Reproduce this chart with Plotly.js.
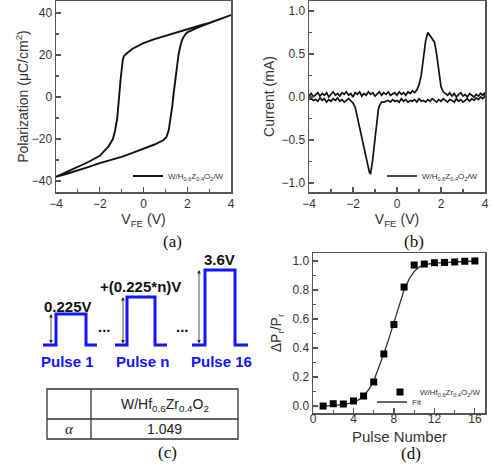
<!DOCTYPE html>
<html>
<head>
<meta charset="utf-8">
<script src="https://cdn.plot.ly/plotly-3.0.1.min.js"></script>
<style>html,body{margin:0;padding:0;background:#fff}#chart{width:493px;height:468px}</style>
</head>
<body>
<div id="chart"></div>
<script>
// ---------- (a) P–V hysteresis ----------
const pUpV = [4, 3.5, 3, 2.5, 2, 1.5, 1, 0.5, 0, -0.5, -0.8, -0.9, -0.95, -1.0, -1.05, -1.1, -1.15, -1.2, -1.3, -1.4, -1.6, -1.8, -2, -2.5, -3, -3.5, -4];
const pUpP = [39, 37, 35.3, 33.8, 32.3, 30.8, 29.2, 27.6, 25.6, 23, 20.5, 19.3, 17.5, 13.5, 8, 2, -4, -10, -16, -20, -23.5, -26, -28, -30.8, -33.2, -35.6, -38];
const pDnV = [-4, -3.5, -3, -2.5, -2, -1.5, -1, -0.5, 0, 0.5, 0.9, 1.05, 1.15, 1.25, 1.32, 1.38, 1.45, 1.5, 1.6, 1.7, 1.8, 1.9, 2.0, 2.5, 3, 3.5, 4];
const pDnP = [-38, -36.5, -35, -33.2, -31.5, -30, -28.5, -26.6, -24.6, -22.6, -20.6, -19, -16, -10, -4, 2, 8, 13, 20, 25, 28, 29.6, 30.8, 33.2, 35.2, 37.1, 39];

// ---------- (b) I–V switching current ----------
const iFwdV = [-4.0,-3.9,-3.8,-3.7,-3.6,-3.5,-3.4,-3.3,-3.2,-3.1,-3.0,-2.9,-2.8,-2.7,-2.6,-2.5,-2.4,-2.3,-2.2,-2.1,-2.0,-1.9,-1.8,-1.7,-1.6,-1.5,-1.4,-1.3,-1.2,-1.1,-1.0,-0.9,-0.8,-0.7,-0.6,-0.5,-0.4,-0.3,-0.2,-0.1,0,0.1,0.2,0.3,0.4,0.5,0.6,0.7,0.8,0.9,1.0,1.1,1.2,1.3,1.4,1.5,1.6,1.7,1.8,1.9,2.0,2.1,2.2,2.3,2.4,2.5,2.6,2.7,2.8,2.9,3.0,3.1,3.2,3.3,3.4,3.5,3.6,3.7,3.8,3.9,4.0];
const iFwdI = [0.01,0.04,0.00,0.03,0.05,0.01,0.04,0.02,0.05,0.00,
               0.03,0.06,0.02,0.04,0.01,0.05,0.03,0.06,0.02,0.04,
               0.00,0.05,0.03,0.06,0.01,0.04,0.02,0.06,0.03,0.05,
               0.01,0.04,0.06,0.02,0.05,0.03,0.06,0.02,0.04,0.05,
               0.02,0.06,0.03,0.05,0.02,0.06,0.04,0.07,0.05,
               0.08,0.14,0.25,0.45,0.65,0.75,0.71,0.67,0.64,0.5,0.3,0.12,0.06,0.04,
               0.02,0.05,0.01,0.04,0.00,0.03,0.05,0.01,0.03,0.00,0.04,0.02,0.00,0.03,0.01,0.04,0.02,0.05];
const iRevV = [4.0,3.9,3.8,3.7,3.6,3.5,3.4,3.3,3.2,3.1,3.0,2.9,2.8,2.7,2.6,2.5,2.4,2.3,2.2,2.1,2.0,1.9,1.8,1.7,1.6,1.5,1.4,1.3,1.2,1.1,1.0,0.9,0.8,0.7,0.6,0.5,0.4,0.3,0.2,0.1,0,-0.1,-0.2,-0.3,-0.4,-0.5,-0.6,
               -0.7,-0.8,-0.85,-0.9,-0.95,-1.0,-1.05,-1.1,-1.15,-1.2,-1.25,-1.3,-1.4,-1.5,-1.6,-1.7,-1.8,-1.9,-2.0,
               -2.1,-2.2,-2.3,-2.4,-2.5,-2.6,-2.7,-2.8,-2.9,-3.0,-3.1,-3.2,-3.3,-3.4,-3.5,-3.6,-3.7,-3.8,-3.9,-4.0];
const iRevI = [0.01,-0.02,0.00,-0.03,-0.01,-0.04,-0.02,-0.05,-0.02,-0.04,
               -0.06,-0.03,-0.05,-0.02,-0.06,-0.04,-0.03,-0.06,-0.04,-0.02,
               -0.05,-0.03,-0.06,-0.04,-0.02,-0.05,-0.03,-0.06,-0.04,-0.05,
               -0.02,-0.06,-0.03,-0.05,-0.04,-0.06,-0.03,-0.05,-0.02,-0.06,
               -0.04,-0.05,-0.03,-0.06,-0.04,-0.05,-0.06,
               -0.06,-0.1,-0.15,-0.25,-0.38,-0.48,-0.6,-0.72,-0.82,-0.89,-0.88,-0.82,-0.74,-0.62,-0.5,-0.36,-0.22,-0.12,-0.07,
               -0.05,-0.02,-0.04,-0.06,-0.03,-0.05,-0.01,-0.04,-0.02,-0.05,-0.03,-0.06,-0.02,-0.04,-0.01,-0.05,-0.03,-0.04,-0.02,-0.03];

// ---------- (d) normalized polarization vs pulse ----------
const pulseNum = [1, 2, 3, 4, 5, 6, 7, 8, 9, 10, 11, 12, 13, 14, 15, 16];
const dPr = [0.0, 0.016, 0.014, 0.035, 0.069, 0.166, 0.359, 0.562, 0.82, 0.972, 0.979, 0.988, 0.99, 0.993, 0.998, 1.0];
const fitX = [1, 2, 3, 4, 4.5, 5, 5.5, 6, 6.5, 7, 7.5, 8, 8.5, 9, 9.5, 10, 10.5, 11, 12, 13, 14, 15, 16];
const fitY = [0.0, 0.005, 0.01, 0.025, 0.042, 0.07, 0.112, 0.172, 0.26, 0.36, 0.465, 0.572, 0.69, 0.8, 0.875, 0.928, 0.958, 0.974, 0.985, 0.99, 0.994, 0.997, 1.0];

// ---------- (c) pulse scheme and table ----------
const pulseNames = ['Pulse 1', 'Pulse n', 'Pulse 16'];
const pulseVolts = ['0.225V', '+(0.225*n)V', '3.6V'];
const tableHeader = ['', 'W/Hf<sub>0.6</sub>Zr<sub>0.4</sub>O<sub>2</sub>'];
const tableRow = ['<i>α</i>', '1.049'];

const legendA = 'W/H<sub>0.6</sub>Z<sub>0.4</sub>O<sub>2</sub>/W';
const legendD = 'W/Hf<sub>0.6</sub>Zr<sub>0.4</sub>O<sub>2</sub>/W';
const panelTags = ['(a)', '(b)', '(c)', '(d)'];
const titleD = 'Pulse Number';

// ---------- styles / geometry ----------
const W = 493, H = 468;
const FONT = 'Liberation Sans, Arial, sans-serif';
const SERIF = 'Liberation Serif, Times New Roman, serif';
const AXC = '#555';
const BLUE = '#1414ff';
const px = v => v / W;
const py = v => 1 - v / H;

function axisBase(extra) {
  return Object.assign({
    ticks: 'inside', ticklen: 5, tickwidth: 1.2, tickcolor: AXC,
    showline: true, mirror: true, linecolor: AXC, linewidth: 1.5,
    showgrid: false, zeroline: false,
    tickfont: {size: 12, color: '#333', family: FONT},
    fixedrange: true
  }, extra);
}

const traces = [
  {x: pUpV.concat(pDnV), y: pUpP.concat(pDnP), type: 'scatter', mode: 'lines',
   line: {color: '#111', width: 1.9}, xaxis: 'x', yaxis: 'y', name: legendA, legend: 'legend'},
  {x: iFwdV.concat(iRevV), y: iFwdI.concat(iRevI), type: 'scatter', mode: 'lines',
   line: {color: '#111', width: 1.7}, xaxis: 'x2', yaxis: 'y2', name: legendA, legend: 'legend2'},
  {x: fitX, y: fitY, type: 'scatter', mode: 'lines', line: {color: '#333', width: 1.3},
   xaxis: 'x3', yaxis: 'y3', name: 'Fit', legend: 'legend4'},
  {x: pulseNum, y: dPr, type: 'scatter', mode: 'markers',
   marker: {symbol: 'square', size: 7, color: '#000'},
   xaxis: 'x3', yaxis: 'y3', name: legendD, legend: 'legend3'}
];

// pulse drawing geometry (pixel space on helper axes x4/y4)
const pulseGeom = [
  {x0: 43, xu: 56, xd: 86, x1: 97, top: 314, arrowX: 51, labelX: 68, labelY: 306, nameX: 67},
  {x0: 115, xu: 127, xd: 155, x1: 167, top: 297, arrowX: 123, labelX: 140, labelY: 286, nameX: 142},
  {x0: 192, xu: 205, xd: 235, x1: 248, top: 270, arrowX: 199, labelX: 219, labelY: 259, nameX: 221}
];
const base = 345;
const shapes = [];
const annotations = [];
pulseGeom.forEach((g, i) => {
  shapes.push({type: 'path', xref: 'x4', yref: 'y4',
    path: `M ${g.x0} ${base} H ${g.xu} V ${g.top} H ${g.xd} V ${base} H ${g.x1}`,
    line: {color: BLUE, width: 3}});
  annotations.push({xref: 'x4', yref: 'y4', x: g.arrowX, y: g.top, ax: g.arrowX, ay: base,
    axref: 'x4', ayref: 'y4', text: '', showarrow: true, arrowhead: 2, startarrowhead: 2,
    arrowside: 'end+start', arrowsize: 0.9, startarrowsize: 0.9, arrowwidth: 0.8, arrowcolor: '#222'});
  annotations.push({xref: 'x4', yref: 'y4', x: g.labelX, y: g.labelY, text: '<b>' + pulseVolts[i] + '</b>',
    showarrow: false, font: {family: FONT, size: 15, color: '#111'}});
  annotations.push({xref: 'x4', yref: 'y4', x: g.nameX, y: 361, text: '<b>' + pulseNames[i] + '</b>',
    showarrow: false, font: {family: FONT, size: 15, color: BLUE}});
});
[104, 182].forEach(x => annotations.push({xref: 'x4', yref: 'y4', x: x, y: 326, text: '<b>...</b>',
  showarrow: false, font: {family: FONT, size: 15, color: '#111'}}));

// table (c)
const tbl = {x0: 47, x1: 238, xc: 91, y0: 389, ym: 419, y1: 439};
const TL = {color: '#333', width: 1.3};
shapes.push({type: 'rect', xref: 'x4', yref: 'y4', x0: tbl.x0, x1: tbl.x1, y0: tbl.y0, y1: tbl.y1, line: TL});
shapes.push({type: 'line', xref: 'x4', yref: 'y4', x0: tbl.x0, x1: tbl.x1, y0: tbl.ym, y1: tbl.ym, line: TL});
shapes.push({type: 'line', xref: 'x4', yref: 'y4', x0: tbl.xc, x1: tbl.xc, y0: tbl.y0, y1: tbl.y1, line: TL});
const colC = [(tbl.x0 + tbl.xc) / 2, (tbl.xc + tbl.x1) / 2];
const rowC = [(tbl.y0 + tbl.ym) / 2, (tbl.ym + tbl.y1) / 2];
[tableHeader, tableRow].forEach((row, r) => row.forEach((txt, c) => {
  if (!txt) return;
  annotations.push({xref: 'x4', yref: 'y4', x: colC[c], y: rowC[r] + (r === 0 ? 1 : 0), text: txt, showarrow: false,
    font: {family: c === 0 ? SERIF : FONT, size: c === 0 ? 15 : 14, color: '#222'}});
}));

[[172, 241], [414, 241], [167, 452], [411, 453]].forEach((p, i) => annotations.push({
  xref: 'x4', yref: 'y4', x: p[0], y: p[1], text: panelTags[i], showarrow: false,
  font: {family: SERIF, size: 17, color: '#111'}}));
// x-axis title of (d), placed to clear the panel tag below it
annotations.push({xref: 'x4', yref: 'y4', x: 399, y: 436, text: titleD, showarrow: false,
  font: {family: FONT, size: 15, color: '#333'}});

const legendCommon = {bgcolor: 'rgba(0,0,0,0)', borderwidth: 0, xanchor: 'right', yanchor: 'middle',
  font: {family: FONT, size: 8, color: '#333'}, itemwidth: 30, tracegroupgap: 0};

const layout = {
  width: W, height: H, margin: {l: 0, r: 0, t: 0, b: 0},
  paper_bgcolor: 'white', plot_bgcolor: 'rgba(0,0,0,0)',
  font: {family: FONT, color: '#333'},
  showlegend: true,
  xaxis: axisBase({domain: [px(56), px(231)], anchor: 'y', range: [-4, 4], dtick: 2,
    minor: {dtick: 1, ticks: 'inside', ticklen: 3, tickcolor: AXC},
    title: {text: 'V<sub>FE</sub> (V)', font: {size: 14, color: '#333'}, standoff: 3}}),
  yaxis: axisBase({domain: [py(192), py(1)], anchor: 'x', range: [-45.2, 45.7], dtick: 20,
    minor: {dtick: 10, ticks: 'inside', ticklen: 3, tickcolor: AXC},
    title: {text: 'Polarization (μC/cm<sup>2</sup>)', font: {size: 14, color: '#333'}, standoff: 0}}),
  xaxis2: axisBase({domain: [px(309), px(485)], anchor: 'y2', range: [-4, 4], dtick: 2,
    minor: {dtick: 1, ticks: 'inside', ticklen: 3, tickcolor: AXC},
    title: {text: 'V<sub>FE</sub> (V)', font: {size: 14, color: '#333'}, standoff: 3}}),
  yaxis2: axisBase({domain: [py(192), py(1)], anchor: 'x2', range: [-1.105, 1.116], dtick: 0.5,
    tickformat: '.1f',
    minor: {dtick: 0.25, ticks: 'inside', ticklen: 3, tickcolor: AXC},
    title: {text: 'Current (mA)', font: {size: 14, color: '#333'}, standoff: 3}}),
  xaxis3: axisBase({domain: [px(313), px(485)], anchor: 'y3', range: [0, 17], dtick: 4,
    ticklabelstandoff: -6,
    minor: {dtick: 2, ticks: 'inside', ticklen: 3, tickcolor: AXC}}),
  yaxis3: axisBase({domain: [py(413), py(253)], anchor: 'x3', range: [-0.048, 1.055], dtick: 0.2,
    tickformat: '.1f',
    minor: {dtick: 0.1, ticks: 'inside', ticklen: 3, tickcolor: AXC},
    title: {text: 'ΔP<sub>r</sub>/P<sub>r</sub>', font: {size: 14, color: '#333'}, standoff: 7}}),
  xaxis4: {domain: [0, 1], range: [0, W], visible: false, fixedrange: true, anchor: 'y4'},
  yaxis4: {domain: [0, 1], range: [H, 0], visible: false, fixedrange: true, anchor: 'x4'},
  legend: Object.assign({}, legendCommon, {x: px(229), y: py(176)}),
  legend2: Object.assign({}, legendCommon, {x: px(483), y: py(176)}),
  legend3: Object.assign({}, legendCommon, {x: px(486), y: py(392)}),
  legend4: Object.assign({}, legendCommon, {x: px(427), y: py(402)}),
  shapes: shapes,
  annotations: annotations
};

// helper trace so the pixel-space axes exist
traces.push({x: [0], y: [0], xaxis: 'x4', yaxis: 'y4', type: 'scatter', mode: 'markers',
  marker: {opacity: 0}, showlegend: false, hoverinfo: 'skip'});

Plotly.newPlot('chart', traces, layout, {displayModeBar: false, staticPlot: true});
</script>
</body>
</html>
